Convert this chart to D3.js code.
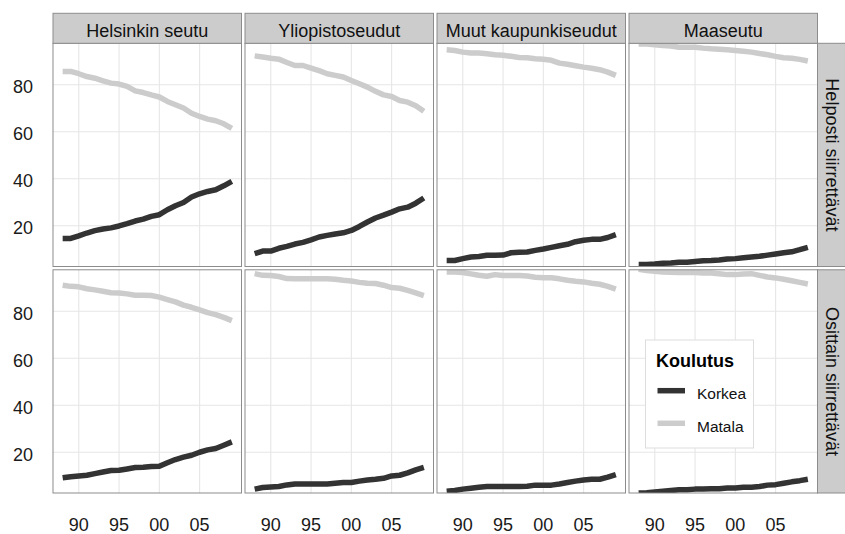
<!DOCTYPE html>
<meta charset="utf-8">
<body style="margin:0;background:#fff;overflow:hidden">
<script src="https://cdn.jsdelivr.net/npm/d3@7/dist/d3.min.js"></script>
<script>
// data (percent)
var years = [1988, 1989, 1990, 1991, 1992, 1993, 1994, 1995, 1996, 1997, 1998,
             1999, 2000, 2001, 2002, 2003, 2004, 2005, 2006, 2007, 2008, 2009];
var regions = ["Helsinkin seutu", "Yliopistoseudut", "Muut kaupunkiseudut", "Maaseutu"];
var rowNames = ["Helposti siirrettävät", "Osittain siirrettävät"];
var groups = ["Korkea", "Matala"];
var xTicks = [1990, 1995, 2000, 2005];
var xTickLabels = ["90", "95", "00", "05"];
var yTicks = [20, 40, 60, 80];

// Helposti siirrettävät, one array per region
var helpostiKorkea = [
  [14.6, 14.6, 15.7, 16.9, 17.9, 18.6, 19.1, 19.9, 20.9, 22.0, 22.8, 24.0, 24.7, 26.8, 28.5, 29.9, 32.2, 33.6, 34.6, 35.3, 37.0, 38.9],
  [8.1, 9.2, 9.2, 10.4, 11.2, 12.2, 12.9, 14.0, 15.2, 15.9, 16.5, 17.0, 18.0, 19.7, 21.6, 23.3, 24.5, 25.8, 27.2, 27.9, 29.6, 31.8],
  [5.2, 5.2, 6.0, 6.7, 6.9, 7.4, 7.4, 7.5, 8.5, 8.7, 8.8, 9.5, 10.1, 10.8, 11.5, 12.1, 13.2, 13.8, 14.2, 14.2, 15.0, 16.2],
  [3.5, 3.5, 3.7, 4.0, 4.1, 4.5, 4.5, 4.8, 5.1, 5.2, 5.4, 5.8, 6.0, 6.4, 6.7, 7.0, 7.5, 8.0, 8.5, 8.9, 9.8, 10.8]
];
var helpostiMatala = [
  [85.7, 85.7, 84.7, 83.5, 82.8, 81.7, 80.7, 80.3, 79.3, 77.4, 76.7, 75.7, 74.8, 72.9, 71.5, 70.1, 67.9, 66.5, 65.4, 64.7, 63.4, 61.4],
  [92.3, 91.8, 91.3, 90.9, 89.5, 88.2, 88.2, 87.1, 86.0, 84.7, 84.0, 83.3, 81.8, 80.4, 79.0, 77.2, 75.7, 75.0, 73.3, 72.6, 71.1, 68.7],
  [94.9, 94.6, 93.9, 93.5, 93.5, 93.2, 92.8, 92.6, 92.1, 91.6, 91.5, 91.1, 90.9, 90.4, 89.2, 88.7, 88.1, 87.5, 87.0, 86.4, 85.4, 84.0],
  [97.4, 97.3, 97.0, 96.7, 96.5, 96.0, 96.0, 96.0, 95.6, 95.3, 95.1, 94.9, 94.6, 94.3, 93.9, 93.3, 92.8, 92.1, 91.5, 91.3, 90.8, 90.1]
];
// Osittain siirrettävät
var osittainKorkea = [
  [9.1, 9.6, 9.9, 10.2, 10.9, 11.6, 12.2, 12.3, 12.9, 13.5, 13.6, 13.9, 14.0, 15.5, 16.9, 17.9, 18.7, 20.0, 21.0, 21.6, 23.0, 24.4],
  [4.3, 5.0, 5.2, 5.4, 6.1, 6.5, 6.5, 6.5, 6.5, 6.5, 6.8, 7.1, 7.1, 7.7, 8.2, 8.5, 8.9, 9.9, 10.2, 11.2, 12.5, 13.6],
  [3.4, 3.7, 4.3, 4.7, 5.1, 5.4, 5.4, 5.4, 5.4, 5.4, 5.5, 6.0, 6.0, 6.0, 6.5, 7.1, 7.7, 8.2, 8.5, 8.5, 9.4, 10.5],
  [2.6, 2.8, 3.1, 3.4, 3.7, 4.0, 4.0, 4.3, 4.4, 4.5, 4.5, 4.8, 4.8, 5.1, 5.1, 5.4, 6.0, 6.2, 6.8, 7.4, 7.9, 8.5]
];
var osittainMatala = [
  [91.1, 90.6, 90.4, 89.6, 89.1, 88.5, 87.9, 87.8, 87.4, 86.8, 86.8, 86.7, 86.0, 85.0, 84.0, 82.6, 81.7, 80.6, 79.4, 78.6, 77.4, 76.0],
  [96.0, 95.3, 95.2, 94.8, 93.9, 93.8, 93.8, 93.8, 93.8, 93.8, 93.6, 93.2, 92.9, 92.3, 91.9, 91.8, 91.1, 90.1, 89.8, 88.9, 87.8, 86.7],
  [96.7, 96.7, 96.5, 95.9, 95.3, 94.9, 95.6, 95.2, 95.2, 95.2, 95.0, 94.5, 94.3, 94.3, 93.8, 93.2, 92.8, 92.5, 91.9, 91.5, 90.6, 89.4],
  [97.9, 97.3, 97.0, 96.7, 96.6, 96.5, 96.5, 96.5, 96.3, 96.3, 96.0, 95.6, 95.6, 95.9, 96.0, 95.3, 94.6, 94.2, 93.6, 93.0, 92.3, 91.6]
];

var series = [[helpostiKorkea, helpostiMatala], [osittainKorkea, osittainMatala]];
var colors = {Korkea: "#333333", Matala: "#cccccc"};

var width = 845, height = 534;
var colX = [53, 245, 437, 629], pw = 188.5;
var rowY = [43.3, 269.8], ph = 223.2;
var stripH = 30;
var font = "'Liberation Sans', Arial, sans-serif";

var svg = d3.select("body").append("svg")
  .attr("width", width).attr("height", height)
  .style("display", "block")
  .style("font-family", font);

var x = d3.scaleLinear().domain([1986.8, 2010.2]).range([0, pw]);
var y = d3.scaleLinear().domain([2.65, 97.65]).range([ph, 0]);

var line = d3.line()
  .x(function(d, i) { return x(years[i]); })
  .y(function(d) { return y(d); });

rowY.forEach(function(ry, r) {
  colX.forEach(function(cx, c) {
    var g = svg.append("g").attr("transform", "translate(" + cx + "," + ry + ")");
    var id = "clip" + r + c;
    g.append("clipPath").attr("id", id)
      .append("rect").attr("width", pw).attr("height", ph);
    g.append("rect").attr("width", pw).attr("height", ph).attr("fill", "#fff");

    // grid
    g.selectAll(".gx").data(xTicks).enter().append("line")
      .attr("x1", function(d) { return x(d); }).attr("x2", function(d) { return x(d); })
      .attr("y1", 0).attr("y2", ph)
      .attr("stroke", "#e6e6e6").attr("stroke-width", 1.1);
    g.selectAll(".gy").data(yTicks).enter().append("line")
      .attr("y1", function(d) { return y(d); }).attr("y2", function(d) { return y(d); })
      .attr("x1", 0).attr("x2", pw)
      .attr("stroke", "#e6e6e6").attr("stroke-width", 1.1);

    var lg = g.append("g").attr("clip-path", "url(#" + id + ")");
    groups.forEach(function(grp, k) {
      lg.append("path")
        .datum(series[r][k][c])
        .attr("d", line)
        .attr("fill", "none")
        .attr("stroke", colors[grp])
        .attr("stroke-width", 5.5)
        .attr("stroke-linejoin", "round");
    });

    g.append("rect").attr("width", pw).attr("height", ph)
      .attr("fill", "none").attr("stroke", "#8c8c8c").attr("stroke-width", 1);

    // y labels on first column
    if (c == 0) {
      svg.selectAll(null).data(yTicks).enter().append("text")
        .attr("x", 33).attr("y", function(d) { return ry + y(d) + 8.5; })
        .attr("text-anchor", "end")
        .attr("font-size", 18).attr("fill", "#1a1a1a")
        .text(function(d) { return d; });
    }
    // x labels on last row
    if (r == rowY.length - 1) {
      svg.selectAll(null).data(xTicks).enter().append("text")
        .attr("x", function(d) { return cx + x(d); }).attr("y", 530.5)
        .attr("text-anchor", "middle")
        .attr("font-size", 18).attr("fill", "#1a1a1a")
        .text(function(d, i) { return xTickLabels[i]; });
    }
  });
});

// top strips
colX.forEach(function(cx, c) {
  svg.append("rect").attr("x", cx).attr("y", rowY[0] - stripH)
    .attr("width", pw).attr("height", stripH)
    .attr("fill", "#cccccc").attr("stroke", "#8c8c8c").attr("stroke-width", 1);
  svg.append("text").attr("x", cx + pw / 2).attr("y", rowY[0] - 6.8)
    .attr("text-anchor", "middle").attr("font-size", 18).attr("fill", "#111")
    .text(regions[c]);
});

// right strips
rowY.forEach(function(ry, r) {
  var sx = colX[3] + pw;
  svg.append("rect").attr("x", sx).attr("y", ry)
    .attr("width", stripH).attr("height", ph)
    .attr("fill", "#cccccc").attr("stroke", "#8c8c8c").attr("stroke-width", 1);
  svg.append("text")
    .attr("transform", "translate(" + (sx + 8.5) + "," + (ry + ph / 2) + ") rotate(90)")
    .attr("text-anchor", "middle").attr("font-size", 18).attr("fill", "#111")
    .text(rowNames[r]);
});

// legend
var leg = svg.append("g").attr("transform", "translate(645.5,340)");
leg.append("rect").attr("width", 108).attr("height", 108)
  .attr("fill", "#fff").attr("stroke", "#dddddd").attr("stroke-width", 1);
leg.append("text").attr("x", 10.5).attr("y", 27)
  .attr("font-size", 18).attr("font-weight", "bold").attr("fill", "#000")
  .text("Koulutus");
groups.forEach(function(grp, k) {
  var ly = 50.7 + k * 32.6;
  leg.append("line").attr("x1", 12).attr("x2", 39.5).attr("y1", ly).attr("y2", ly)
    .attr("stroke", colors[grp]).attr("stroke-width", 5.5);
  leg.append("text").attr("x", 51.5).attr("y", ly + 8.5)
    .attr("font-size", 15.5).attr("fill", "#111").text(grp);
});
</script>
</body>
